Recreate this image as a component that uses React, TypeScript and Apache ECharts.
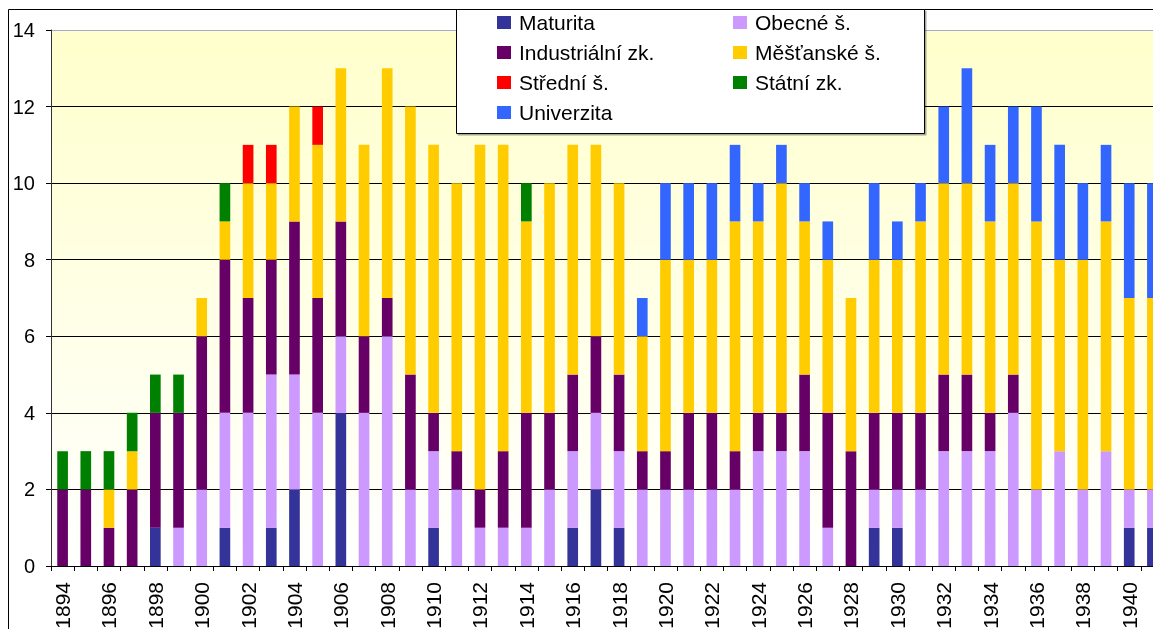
import React, { useEffect, useRef } from "react";
import * as echarts from "echarts";

const years = [
  "1894","1895","1896","1897","1898","1899","1900","1901","1902","1903","1904","1905",
  "1906","1907","1908","1909","1910","1911","1912","1913","1914","1915","1916","1917",
  "1918","1919","1920","1921","1922","1923","1924","1925","1926","1927","1928","1929",
  "1930","1931","1932","1933","1934","1935","1936","1937","1938","1939","1940","1941",
];

const maturita = [0,0,0,0,1,0,0,1,0,1,2,0, 4,0,0,0,1,0,0,0,0,0,1,2, 1,0,0,0,0,0,0,0,0,0,0,1, 1,0,0,0,0,0,0,0,0,0,1,1];
const obecne = [0,0,0,0,0,1,2,3,4,4,3,4, 2,4,6,2,2,2,1,1,1,2,2,2, 2,2,2,2,2,2,3,3,3,1,0,1, 1,2,3,3,3,4,2,3,2,3,1,1];
const industrialni = [2,2,1,2,3,3,4,4,3,3,4,3, 3,2,1,3,1,1,1,2,3,2,2,2, 2,1,1,2,2,1,1,1,2,3,3,2, 2,2,2,2,1,1,0,0,0,0,0,0];
const mestanske = [0,0,1,1,0,0,1,1,3,2,3,4, 4,5,6,7,7,7,9,8,5,6,6,5, 5,3,5,4,4,6,5,6,4,4,4,4, 4,5,5,5,5,5,7,5,6,6,5,5];
const stredni = [0,0,0,0,0,0,0,0,1,1,0,1, 0,0,0,0,0,0,0,0,0,0,0,0, 0,0,0,0,0,0,0,0,0,0,0,0, 0,0,0,0,0,0,0,0,0,0,0,0];
const statni = [1,1,1,1,1,1,0,1,0,0,0,0, 0,0,0,0,0,0,0,0,1,0,0,0, 0,0,0,0,0,0,0,0,0,0,0,0, 0,0,0,0,0,0,0,0,0,0,0,0];
const univerzita = [0,0,0,0,0,0,0,0,0,0,0,0, 0,0,0,0,0,0,0,0,0,0,0,0, 0,1,2,2,2,2,1,1,1,1,0,2, 1,1,2,3,2,2,3,3,2,2,3,3];

const seriesDefs = [
  { name: "Maturita", data: maturita, color: "#333399" },
  { name: "Obecné š.", data: obecne, color: "#CC99FF" },
  { name: "Industriální zk.", data: industrialni, color: "#660066" },
  { name: "Měšťanské š.", data: mestanske, color: "#FFCC00" },
  { name: "Střední š.", data: stredni, color: "#FF0000" },
  { name: "Státní zk.", data: statni, color: "#008000" },
  { name: "Univerzita", data: univerzita, color: "#3366FF" },
];

const FONT = "'Liberation Sans', Arial, sans-serif";

export default function App() {
  const ref = useRef<HTMLDivElement>(null);
  useEffect(() => {
    if (!ref.current) return;
    const chart = echarts.init(ref.current, null, { renderer: "svg" });
    const legendText = {
      fontFamily: FONT,
      fontSize: 21,
      color: "#000",
      lineHeight: 21,
      padding: [0, 0, 0, 3],
    };
    const legendCommon = {
      orient: "vertical",
      top: 12,
      padding: 0,
      itemWidth: 14,
      itemHeight: 13,
      itemGap: 9,
      icon: "rect",
      textStyle: legendText,
      selectedMode: false,
      z: 10,
    };
    chart.setOption({
      animation: false,
      textStyle: { fontFamily: FONT },
      grid: {
        left: 51,
        right: -11,
        top: 30,
        bottom: 63,
        outerBoundsMode: "none",
        containLabel: false,
        show: true,
        borderWidth: 0,
        backgroundColor: new echarts.graphic.LinearGradient(0, 0, 0, 1, [
          { offset: 0, color: "#FFFFCC" },
          { offset: 1, color: "#FFFFFF" },
        ]),
      },
      legend: [
        {
          ...legendCommon,
          data: ["Maturita", "Industriální zk.", "Střední š.", "Univerzita"],
          left: 497,
        },
        {
          ...legendCommon,
          data: ["Obecné š.", "Měšťanské š.", "Státní zk."],
          left: 733,
        },
      ],
      graphic: [
        {
          type: "rect",
          z: 1,
          silent: true,
          shape: { x: 8.5, y: 9.5, width: 1300, height: 800 },
          style: { fill: "none", stroke: "#000000", lineWidth: 1 },
        },
        {
          type: "rect",
          z: 5,
          shape: { x: 456.5, y: 9.5, width: 468, height: 124 },
          style: {
            fill: "#FFFFFF",
            stroke: "#000000",
            lineWidth: 1,
            shadowColor: "rgba(0,0,0,0.35)",
            shadowOffsetX: 1.5,
            shadowOffsetY: 1.5,
            shadowBlur: 0,
          },
        },
      ],
      xAxis: {
        type: "category",
        data: years,
        boundaryGap: true,
        axisLine: { show: true, lineStyle: { color: "#000", width: 1 } },
        axisTick: { show: true, interval: 0, alignWithLabel: false, length: 5, lineStyle: { color: "#000" } },
        axisLabel: {
          interval: 1,
          rotate: 90,
          fontSize: 21,
          color: "#000",
          fontFamily: FONT,
          margin: 16,
        },
        splitLine: { show: false },
      },
      yAxis: {
        type: "value",
        min: 0,
        max: 14,
        interval: 2,
        axisLine: { show: true, lineStyle: { color: "#333", width: 1 } },
        axisTick: { show: true, length: 5, lineStyle: { color: "#000" } },
        axisLabel: { fontSize: 20, color: "#000", fontFamily: FONT, margin: 16 },
        splitLine: {
          show: true,
          lineStyle: {
            color: ["#000", "#000", "#000", "#000", "#000", "#000", "#000", "#A8A8D0"],
            width: 1,
          },
        },
      },
      series: seriesDefs.map((s) => ({
        name: s.name,
        type: "bar",
        stack: "total",
        barWidth: "46%",
        itemStyle: { color: s.color },
        data: s.data.map((v) => (v === 0 ? "-" : v)),
      })),
    });
    return () => chart.dispose();
  }, []);
  return (
    <div
      ref={ref}
      style={{ position: "fixed", left: 0, top: 0, width: 1153, height: 629 }}
    />
  );
}
